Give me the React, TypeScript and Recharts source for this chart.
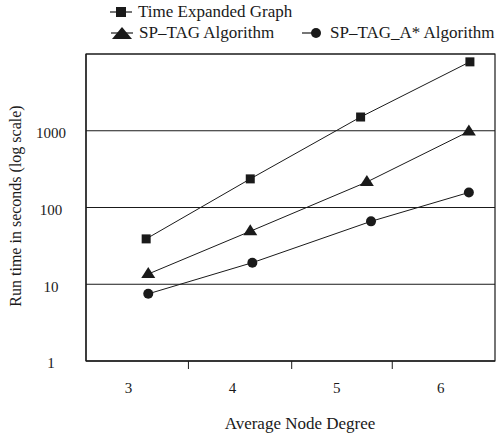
import { LineChart, Line, XAxis, YAxis, CartesianGrid, ReferenceArea, Label } from 'recharts';

const SERIES_NAMES = ['Time Expanded Graph', 'SP\u2013TAG Algorithm', 'SP\u2013TAG_A* Algorithm'];

// average node degree of each measured point, per series
const TEG_DEGREE = [3.17, 4.17, 5.23, 6.28];
const TAG_DEGREE = [3.19, 4.17, 5.29, 6.27];
const ASTAR_DEGREE = [3.19, 4.19, 5.33, 6.27];

// run time in seconds
const TEG_TIME = [39, 236, 1510, 7900];
const TAG_TIME = [13.6, 49, 215, 980];
const ASTAR_TIME = [7.5, 19.1, 66, 157];

const X_LABELS = [3, 4, 5, 6];
const X_BOUNDARIES = [3.576, 4.568, 5.534];
const X_DOMAIN = [2.592, 6.521];
const Y_TICKS = [1, 10, 100, 1000];
const Y_DOMAIN = [1, 10000];

const FONT = '"Liberation Serif", "Times New Roman", serif';
const INK = '#1a1a1a';

const toPoints = (xs: number[], ys: number[]) => xs.map((x, i) => ({ x, y: ys[i] }));

const tegData = toPoints(TEG_DEGREE, TEG_TIME);
const tagData = toPoints(TAG_DEGREE, TAG_TIME);
const astarData = toPoints(ASTAR_DEGREE, ASTAR_TIME);

const SquareDot = (p: any) => (
    <rect key={`s${p.index}`} x={p.cx - 4.5} y={p.cy - 4.5} width={9} height={9} fill={INK} />
);
const TriangleDot = (p: any) => (
    <polygon key={`t${p.index}`} points={`${p.cx},${p.cy - 7} ${p.cx - 7},${p.cy + 4} ${p.cx + 7},${p.cy + 4}`} fill={INK} />
);
const CircleDot = (p: any) => (
    <circle key={`c${p.index}`} cx={p.cx} cy={p.cy} r={5} fill={INK} />
);

const XTick = (p: any) => {
    const v = p.payload.value;
    if (X_LABELS.includes(v)) {
        return (
            <text x={p.x} y={p.y + 27} dy="0.35em" textAnchor="middle" fontFamily={FONT} fontSize={15} fill={INK}>
                {v}
            </text>
        );
    }
    return <line x1={p.x} x2={p.x} y1={p.y} y2={p.y + 8} stroke={INK} strokeWidth={1} />;
};

const YTick = (p: any) => (
    <text x={51} y={p.y + 2} dy="0.35em" textAnchor="middle" fontFamily={FONT} fontSize={15} fill={INK}>
        {p.payload.value}
    </text>
);

const XTitle = () => (
    <text x={300} y={423} dy="0.35em" textAnchor="middle" fontFamily={FONT} fontSize={17} fill={INK}>
        Average Node Degree
    </text>
);

const YTitle = () => {
    const cx = 15;
    const cy = 206;
    return (
        <text x={cx} y={cy} dy="0.35em" transform={`rotate(-90 ${cx} ${cy})`} textAnchor="middle" fontFamily={FONT} fontSize={16} fill={INK}>
            Run time in seconds (log scale)
        </text>
    );
};

function LegendMarker({ kind }: { kind: number }) {
    return (
        <svg width={24} height={14} style={{ display: 'block' }}>
            <line x1={0} x2={kind === 2 ? 18 : 22} y1={7} y2={7} stroke={INK} strokeWidth={1.2} />
            {kind === 0 && <rect x={6} y={2} width={10} height={10} fill={INK} />}
            {kind === 1 && <polygon points="11,1 1,13 21,13" fill={INK} />}
            {kind === 2 && <circle cx={14} cy={7} r={5} fill={INK} />}
        </svg>
    );
}

const LEGEND_POS = [
    { left: 110, top: 12 },
    { left: 111, top: 33 },
    { left: 302, top: 33 },
];

export default function App() {
    return (
        <div style={{ position: 'absolute', left: 0, top: 0, width: 497, height: 438, background: '#fff' }}>
            <LineChart width={497} height={438} margin={{ top: 54, right: 2, bottom: 0, left: 0 }}>
                <CartesianGrid vertical={false} stroke={INK} strokeWidth={1} />
                <ReferenceArea
                    x1={X_DOMAIN[0]}
                    x2={X_DOMAIN[1]}
                    y1={Y_DOMAIN[0]}
                    y2={Y_DOMAIN[1]}
                    fill="none"
                    stroke={INK}
                    strokeWidth={1.2}
                    fillOpacity={0}
                />
                <XAxis
                    type="number"
                    dataKey="x"
                    domain={X_DOMAIN}
                    ticks={[...X_LABELS, ...X_BOUNDARIES]}
                    interval={0}
                    allowDataOverflow
                    height={77}
                    tickLine={false}
                    tickSize={0}
                    tickMargin={0}
                    axisLine={{ stroke: INK, strokeWidth: 1.2 }}
                    tick={<XTick />}
                    label={<Label content={<XTitle />} />}
                />
                <YAxis
                    type="number"
                    dataKey="y"
                    scale="log"
                    domain={Y_DOMAIN}
                    ticks={Y_TICKS}
                    interval={0}
                    allowDataOverflow
                    width={86}
                    tickLine={false}
                    axisLine={{ stroke: INK, strokeWidth: 1.2 }}
                    tick={<YTick />}
                    label={<Label content={<YTitle />} />}
                />
                <Line data={tegData} dataKey="y" name={SERIES_NAMES[0]} stroke={INK} strokeWidth={1} dot={SquareDot} activeDot={false} isAnimationActive={false} />
                <Line data={tagData} dataKey="y" name={SERIES_NAMES[1]} stroke={INK} strokeWidth={1} dot={TriangleDot} activeDot={false} isAnimationActive={false} />
                <Line data={astarData} dataKey="y" name={SERIES_NAMES[2]} stroke={INK} strokeWidth={1} dot={CircleDot} activeDot={false} isAnimationActive={false} />
            </LineChart>
            {SERIES_NAMES.map((name, i) => (
                <div
                    key={name}
                    style={{
                        position: 'absolute',
                        left: LEGEND_POS[i].left,
                        top: LEGEND_POS[i].top - 10,
                        height: 20,
                        display: 'flex',
                        alignItems: 'center',
                        gap: 4,
                        fontFamily: FONT,
                        fontSize: 17,
                        color: INK,
                        whiteSpace: 'nowrap',
                        lineHeight: '20px',
                    }}
                >
                    <LegendMarker kind={i} />
                    <span>{name}</span>
                </div>
            ))}
        </div>
    );
}
